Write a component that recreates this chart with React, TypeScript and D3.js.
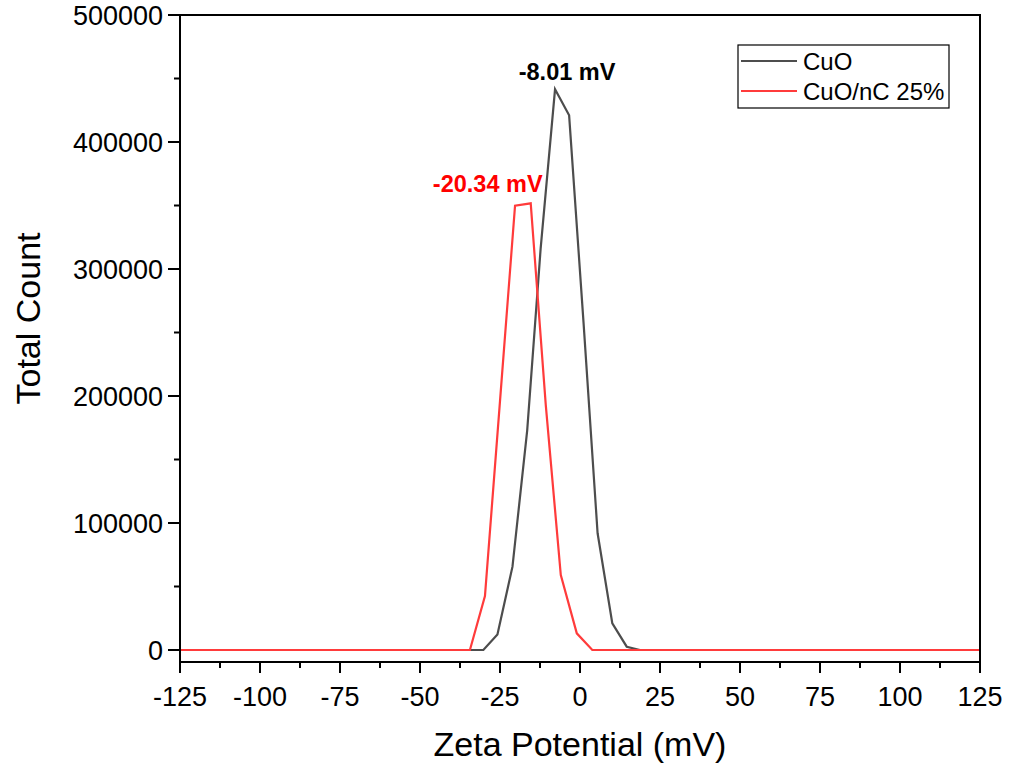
import React from "react";
import * as d3 from "d3";

// ---- data ----
const cuoX = [-125, -30.2, -25.8, -21.1, -16.5, -12.3, -7.8, -3.4, 1.1, 5.5, 10.1, 14.6, 18.75, 125];
const cuoY = [0, 0, 12300, 65600, 173000, 316000, 441500, 421000, 258000, 91900, 21000, 2600, 0, 0];
const ncX = [-125, -34.4, -29.7, -25.0, -20.3, -15.4, -10.7, -6.0, -1.0, 3.85, 125];
const ncY = [0, 0, 42500, 196000, 349800, 351700, 193000, 59000, 13100, 0, 0];

const seriesNames = ["CuO", "CuO/nC 25%"];
const seriesColors = ["#4d4d4d", "#ff3b3b"];
const peakLabels = ["-8.01 mV", "-20.34 mV"];

const xTicks = [-125, -100, -75, -50, -25, 0, 25, 50, 75, 100, 125];
const xMinor = [-112.5, -87.5, -62.5, -37.5, -12.5, 12.5, 37.5, 62.5, 87.5, 112.5];
const yTicks = [0, 100000, 200000, 300000, 400000, 500000];
const yMinor = [50000, 150000, 250000, 350000, 450000];

const W = 1010;
const H = 769;
const left = 180, right = 980, top = 15, bottom = 662;
const FONT = "'Liberation Sans', Arial, sans-serif";

export default function App() {
  const x = d3.scaleLinear().domain([-125, 125]).range([left, right]);
  const y = d3.scaleLinear().domain([-9450, 500000]).range([bottom, top]);
  const line = d3
    .line<[number, number]>()
    .x((d) => x(d[0]))
    .y((d) => y(d[1]));
  const cuo = cuoX.map((v, i) => [v, cuoY[i]] as [number, number]);
  const nc = ncX.map((v, i) => [v, ncY[i]] as [number, number]);

  const cuoPeak = cuo[d3.maxIndex(cuo, (d) => d[1])];
  const ncPeak = nc[d3.maxIndex(nc, (d) => d[1])];

  return (
    <div style={{ position: "absolute", left: 0, top: 0 }}>
      <svg width={W} height={H} style={{ display: "block", background: "#fff" }} fontFamily={FONT}>
        <rect x={0} y={0} width={W} height={H} fill="#fff" />
        {/* series */}
        <path d={line(cuo) || ""} fill="none" stroke={seriesColors[0]} strokeWidth={2.2} strokeLinejoin="miter" />
        <path d={line(nc) || ""} fill="none" stroke={seriesColors[1]} strokeWidth={2.2} strokeLinejoin="miter" />

        {/* peak labels */}
        <text x={x(cuoPeak[0]) + 12} y={y(cuoPeak[1]) - 9} textAnchor="middle" fontSize={23.5} fontWeight="bold" fill="#000">
          {peakLabels[0]}
        </text>
        <text x={x(ncPeak[0]) - 43} y={y(ncPeak[1]) - 11} textAnchor="middle" fontSize={23.5} fontWeight="bold" fill="#ff0000">
          {peakLabels[1]}
        </text>

        {/* frame */}
        <rect x={left} y={top} width={right - left} height={bottom - top} fill="none" stroke="#000" strokeWidth={2} />

        {/* x ticks */}
        {xTicks.map((t) => (
          <g key={"xt" + t}>
            <line x1={x(t)} x2={x(t)} y1={bottom} y2={bottom + 11} stroke="#000" strokeWidth={2} />
            <text x={x(t)} y={bottom + 44} textAnchor="middle" fontSize={27} fill="#000">
              {t}
            </text>
          </g>
        ))}
        {xMinor.map((t) => (
          <line key={"xm" + t} x1={x(t)} x2={x(t)} y1={bottom} y2={bottom + 6} stroke="#000" strokeWidth={2} />
        ))}

        {/* y ticks */}
        {yTicks.map((t) => (
          <g key={"yt" + t}>
            <line x1={left - 12} x2={left} y1={y(t)} y2={y(t)} stroke="#000" strokeWidth={2} />
            <text x={left - 17} y={y(t) + 10} textAnchor="end" fontSize={27} fill="#000">
              {t}
            </text>
          </g>
        ))}
        {yMinor.map((t) => (
          <line key={"ym" + t} x1={left - 6} x2={left} y1={y(t)} y2={y(t)} stroke="#000" strokeWidth={2} />
        ))}

        {/* axis titles */}
        <text x={(left + right) / 2} y={756} textAnchor="middle" fontSize={34} fill="#000">
          Zeta Potential (mV)
        </text>
        <text transform={`translate(40, ${(top + bottom) / 2 - 20}) rotate(-90)`} textAnchor="middle" fontSize={34} fill="#000">
          Total Count
        </text>

        {/* legend */}
        <g>
          <rect x={738} y={45} width={211} height={63} fill="#fff" stroke="#000" strokeWidth={1.2} />
          {seriesNames.map((n, i) => (
            <g key={n}>
              <line x1={741} x2={797} y1={61 + i * 30} y2={61 + i * 30} stroke={seriesColors[i]} strokeWidth={2.2} />
              <text x={803} y={70 + i * 30} fontSize={24} fill="#000">
                {n}
              </text>
            </g>
          ))}
        </g>
      </svg>
    </div>
  );
}
